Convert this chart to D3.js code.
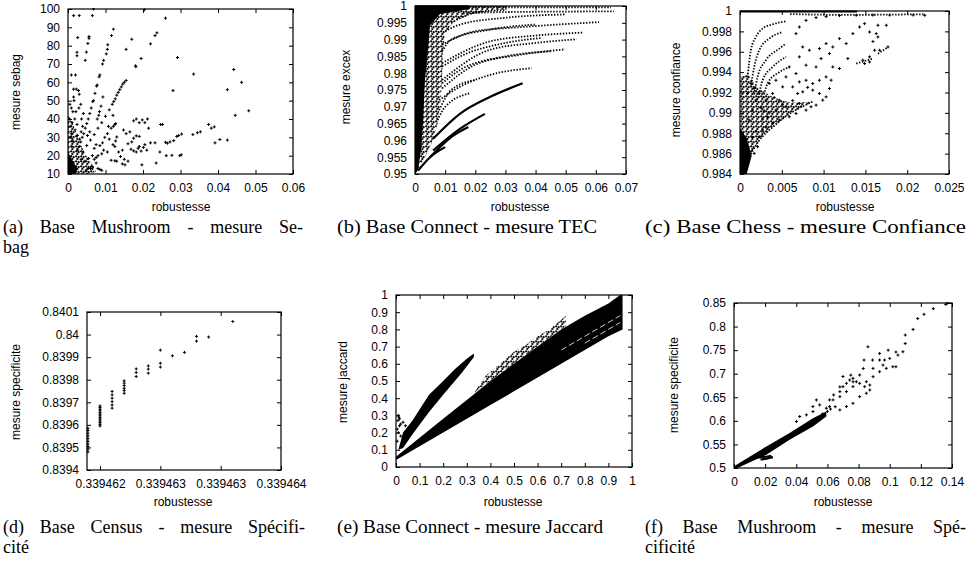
<!DOCTYPE html>
<html>
<head>
<meta charset="utf-8">
<script src="https://cdn.jsdelivr.net/npm/d3@7"></script>
<style>
  body { margin: 0; background: #fff; }
  svg { display: block; }
  text { font-family: "Liberation Sans", Arial, sans-serif; font-size: 12px; fill: #000; }
  .cap { font-family: "Liberation Serif", "Times New Roman", serif; font-size: 18px; }
</style>
</head>
<body>
<svg id="fig" width="969" height="572"></svg>
<script>
// ---- (a) Mushroom / Sebag ----
const sebagXTicks = [0, 0.01, 0.02, 0.03, 0.04, 0.05, 0.06];
const sebagXLabels = ["0", "0.01", "0.02", "0.03", "0.04", "0.05", "0.06"];
const sebagYTicks = [10, 20, 30, 40, 50, 60, 70, 80, 90, 100];
const sebagYLabels = ["10", "20", "30", "40", "50", "60", "70", "80", "90", "100"];
const sebagCore = [[0,10],[0,22],[0.001,18],[0.0025,13],[0.002,10]];
const sebagSpeck = [[0,10],[0,42],[0.0012,38],[0.0028,29],[0.0045,21],[0.0065,15],[0.0075,11.5],[0.006,10]];
const sebagPoints = [
  [0.0015,96.4],[0.003,96.4],[0.0065,96.4],[0.0068,100],[0.0204,99.6],[0.026,95],
  [0.0026,84.4],[0.0024,76.4],[0.0024,74.5],[0.0049,76.5],[0.0046,72],[0.0056,85],[0.0056,84],[0.0053,81.2],
  [0.0009,64],[0.002,64],[0.0015,56.3],[0.0022,56.3],[0.0028,55.5],[0.003,53.5],[0.0015,52],[0.0016,50],[0.0013,44],[0.0021,44],
  [0.0121,89],[0.0116,85.5],[0.0106,80.5],[0.0105,78],[0.0102,75.5],[0.0095,72],[0.0092,70],[0.0085,64],[0.0083,63],
  [0.0078,58.5],[0.0076,58],[0.0072,54],[0.0068,50],[0.0066,49.5],[0.0062,46],[0.0058,43],[0.0054,40],[0.005,37.5],
  [0.0046,35],[0.0042,32],[0.0038,30],[0.0034,27.5],[0.003,25],[0.0026,23],
  [0.0155,61],[0.015,60],[0.0146,59],[0.0142,57.5],[0.0138,56],[0.0134,54.5],[0.013,53],[0.0126,51],[0.0122,49.5],
  [0.0118,48],[0.011,45],[0.01,41.5],[0.009,38],[0.008,35],[0.007,31.5],[0.006,28.5],[0.005,25.5],[0.004,22],
  [0.0093,52],[0.0088,47],[0.0084,44],[0.0082,42],[0.0078,40],[0.012,42],[0.0121,36],[0.0125,37],[0.0127,37.5],
  [0.0155,78],[0.017,83.5],[0.0195,73],[0.018,69],[0.0181,68.5],[0.022,81],[0.0232,85.5],[0.0237,87],
  [0.028,55.5],[0.0292,73.5],[0.0335,64.5],[0.0425,56],[0.0442,67],[0.0446,42],[0.0463,60],[0.0482,44.5],
  [0.0375,37],[0.0382,35],[0.039,35.7],[0.0353,33],[0.0345,32.5],[0.0333,31.5],[0.0392,27],[0.0405,28.8],[0.0425,28.5],
  [0.0302,20.5],[0.0298,20],[0.0295,31],[0.0303,31.8],[0.029,30.5],[0.0282,28.2],[0.0272,27.5],[0.026,27.3],[0.0265,26.8],
  [0.0245,22],[0.0252,37],[0.0247,37],[0.0277,20.2],[0.0262,20],[0.0235,16],[0.0197,15],[0.0232,27],
  [0.0175,39],[0.0182,40],[0.019,38],[0.0198,39.5],[0.0205,38],[0.0212,40],[0.0215,35],[0.019,30.5],[0.0182,30.8],
  [0.0175,29.5],[0.017,27.5],[0.016,26.5],[0.0165,33],[0.0155,32],[0.0148,34],[0.0145,23],[0.0135,22],[0.014,19.5],
  [0.015,18],[0.016,17],[0.0145,15.5],[0.0152,15],[0.013,17],[0.0125,17.2],[0.0115,17.5],[0.0125,25],[0.012,26],
  [0.0127,28],[0.013,30.2],[0.0105,22],[0.0095,23],[0.0085,25.5],[0.009,21],[0.008,20],[0.0075,19],[0.007,18],
  [0.008,13],[0.0085,12.5],[0.009,12],[0.0075,16],[0.019,25],[0.0201,24.5],[0.021,23],[0.0182,22],[0.0187,24],
  [0.0205,26],[0.022,27],[0.0195,22.5],[0.0175,22.6],[0.0168,23.5],[0.011,29],[0.0105,32],[0.0098,30],[0.0092,27],
  [0.0115,35],[0.0108,36],
  [0.0005,15],[0.001,25],[0.0013,28],[0.0006,30],[0.0009,32],[0.0006,36],[0.0004,40],[0.0011,38],
  [0.0035,18],[0.0045,17],[0.0055,18.5],[0.0065,20],[0.006,13],[0.0065,14],[0.0048,12],[0.0055,13.2],
  [0.0019,34],[0.0025,31],[0.0031,29],[0.0036,40],[0.0041,43],[0.0029,46],[0.0034,48],[0.0018,40],[0.0024,37],
  [0.0005,48],[0.0009,46],[0.0035,33],[0.0039,36],[0.0052,31],[0.0058,33],[0.007,24],[0.0075,26]
];

// ---- (b) Connect / TEC ----
const excexXTicks = [0, 0.01, 0.02, 0.03, 0.04, 0.05, 0.06, 0.07];
const excexXLabels = ["0", "0.01", "0.02", "0.03", "0.04", "0.05", "0.06", "0.07"];
const excexYTicks = [0.95, 0.955, 0.96, 0.965, 0.97, 0.975, 0.98, 0.985, 0.99, 0.995, 1];
const excexYLabels = ["0.95", "0.955", "0.96", "0.965", "0.97", "0.975", "0.98", "0.985", "0.99", "0.995", "1"];
const excexCore = [[0,0.95],[0,1],[0.0182,1],[0.0182,0.9991],[0.0083,0.9976],[0.005,0.9943],[0.0043,0.9869],
  [0.0033,0.978],[0.0027,0.9661],[0.002,0.9571],[0.001,0.9512]];
const excexSpeck = [[0,0.95],[0.003,0.9545],[0.0055,0.959],[0.0075,0.965],[0.0085,0.972],[0.009,0.979],
  [0.0092,0.986],[0.01,0.992],[0.013,0.9955],[0.02,0.998],[0.03,0.999],[0.03,1],[0,1]];
const excexDotted = [
  [[0.018,0.9997],[0.04,0.9996],[0.065,0.9996]],
  [[0.016,0.9978],[0.03,0.9982],[0.066,0.9984]],
  [[0.009,0.9885],[0.02,0.9925],[0.035,0.9937],[0.061,0.9952]],
  [[0.009,0.983],[0.025,0.9895],[0.04,0.9912],[0.0559,0.9921]],
  [[0.009,0.978],[0.025,0.987],[0.04,0.989],[0.0536,0.9901]],
  [[0.009,0.9755],[0.02,0.9825],[0.035,0.9855],[0.0498,0.9871]],
  [[0.008,0.972],[0.015,0.976],[0.025,0.9795],[0.0387,0.9815]],
  [[0.009,0.977],[0.015,0.981],[0.03,0.985],[0.045,0.9865]],
  [[0.009,0.982],[0.015,0.985],[0.03,0.989],[0.042,0.9905]],
  [[0.009,0.9865],[0.012,0.99],[0.025,0.993],[0.04,0.9945]],
  [[0.01,0.9925],[0.015,0.9945],[0.03,0.9965],[0.05,0.9975]],
  [[0.012,0.995],[0.02,0.998],[0.03,0.9988]],
  [[0.008,0.969],[0.012,0.975],[0.02,0.978]],
  [[0.0075,0.966],[0.01,0.97],[0.018,0.974]]
];
const excexSolid = [
  [[0.006,0.9605],[0.015,0.968],[0.025,0.973],[0.0357,0.977]],
  [[0.006,0.957],[0.015,0.9635],[0.0232,0.9679]],
  [[0.005,0.955],[0.012,0.961],[0.0177,0.964]],
  [[0.001,0.951],[0.005,0.955],[0.01,0.958]],
  [[0,0.9999],[0.018,0.9999]]
];

// ---- (c) Chess / Confiance ----
const confXTicks = [0, 0.005, 0.01, 0.015, 0.02, 0.025];
const confXLabels = ["0", "0.005", "0.01", "0.015", "0.02", "0.025"];
const confYTicks = [0.984, 0.986, 0.988, 0.99, 0.992, 0.994, 0.996, 0.998, 1];
const confYLabels = ["0.984", "0.986", "0.988", "0.99", "0.992", "0.994", "0.996", "0.998", "1"];
const confCore = [[0,0.984],[0,0.9885],[0.0008,0.9875],[0.0014,0.9858],[0.0008,0.984]];
const confSpeck = [[0,0.984],[0,0.9935],[0.001,0.9938],[0.002,0.9925],[0.004,0.9915],[0.006,0.991],[0.0087,0.9911],
  [0.0059,0.9899],[0.0039,0.9886],[0.0023,0.9873],[0.0011,0.9857],[0.0003,0.984]];
const confDotted = [
  [[0.0009,0.9935],[0.0013,0.99615],[0.0019,0.99745],[0.0027,0.99827],[0.0039,0.99869],[0.0055,0.999]],
  [[0.0013,0.9925],[0.0017,0.99451],[0.0023,0.99615],[0.0035,0.99729],[0.0051,0.99794]],
  [[0.0017,0.9918],[0.0021,0.99353],[0.0031,0.99517],[0.0047,0.99631],[0.0055,0.9968]],
  [[0.0022,0.9915],[0.0027,0.9932],[0.0039,0.9945],[0.0055,0.9955]],
  [[0.0028,0.9915],[0.0033,0.9929],[0.0047,0.994],[0.0059,0.9945]],
  [[0.0011,0.9857],[0.0023,0.9873],[0.0039,0.9886],[0.0059,0.9899],[0.0079,0.9908],[0.0087,0.9911]],
  [[0.006,0.9997],[0.012,0.99962],[0.022,0.99968]],
  [[0.0139,0.99484],[0.0159,0.99533]],
  [[0.0165,0.9958],[0.0177,0.99647]]
];
const confSolid = [[[0,0.99995],[0.014,0.99995]]];
const confPoints = [
  [0.0177,0.99647],[0.0175,0.9986],[0.0165,0.9986],[0.0163,0.99778],[0.0165,0.99745],[0.0159,0.997],[0.0161,0.99615],
  [0.0167,0.99615],[0.0155,0.9955],[0.0147,0.99517],[0.0149,0.99484],[0.0155,0.995],[0.0129,0.99533],[0.0127,0.9968],
  [0.0119,0.99729],[0.0135,0.99778],[0.0143,0.99843],[0.0149,0.99876],[0.0155,0.99794],[0.0111,0.99647],[0.0107,0.99582],
  [0.0103,0.9968],[0.0095,0.99631],[0.0097,0.99533],[0.0091,0.99451],[0.0083,0.99615],[0.0075,0.99647],[0.0071,0.9955],
  [0.0079,0.99468],[0.0111,0.99451],[0.0119,0.99435],[0.0103,0.99353],[0.0095,0.9932],[0.0087,0.99288],[0.0079,0.9932],
  [0.0071,0.99304],[0.0067,0.99386],[0.0059,0.99451],[0.0055,0.99353],[0.0063,0.99255],[0.0075,0.99206],[0.0087,0.99223],
  [0.0095,0.9919],[0.0103,0.99157],[0.0107,0.99239],[0.0109,0.99321],[0.0099,0.99125],[0.0091,0.99076],[0.0085,0.9906],
  [0.0079,0.99027],[0.0071,0.99092],[0.0067,0.98994],[0.0059,0.98962],[0.0055,0.9906],[0.0047,0.99125],[0.0043,0.99027],
  [0.0047,0.98929],[0.0039,0.98896],[0.0035,0.99],[0.0031,0.99125],[0.0039,0.9919],[0.0027,0.98831],[0.0023,0.98766],
  [0.0021,0.98668],[0.0017,0.98602],[0.0035,0.99288],[0.0043,0.9932],[0.0051,0.99255],[0.0023,0.9919],[0.0019,0.99125],
  [0.0015,0.99027],[0.0011,0.98929],[0.0009,0.9919],[0.0013,0.99288],[0.0017,0.99239],[0.0067,0.99778],[0.0071,0.99843],
  [0.0079,0.99908],[0.0091,0.99935],[0.0103,0.99945],[0.0119,0.99955],[0.0139,0.99958],[0.0159,0.9996],[0.0179,0.9996],
  [0.0207,0.9996],[0.0221,0.99958],[0.0029,0.9902],[0.0033,0.9896],[0.0025,0.9905],[0.0041,0.9915],[0.0051,0.9908],
  [0.0063,0.9912],[0.0069,0.9919],[0.0081,0.9925],[0.0031,0.9886],[0.0027,0.9894],[0.0019,0.9882],[0.0015,0.9876]
];

// ---- (d) Census / Specificite ----
const censusXTicks = [0.339462, 0.3394625, 0.339463, 0.3394635];
const censusXLabels = ["0.339462", "0.339463", "0.339463", "0.339464"];
const censusYTicks = [0.8394, 0.8395, 0.8396, 0.8397, 0.8398, 0.8399, 0.84, 0.8401];
const censusYLabels = ["0.8394", "0.8395", "0.8396", "0.8397", "0.8398", "0.8399", "0.84", "0.8401"];
const censusPoints = [
  [0.3394619,0.839585],[0.3394619,0.839575],[0.3394619,0.839563],[0.3394619,0.839551],[0.3394619,0.839539],
  [0.3394619,0.839527],[0.3394619,0.839515],[0.3394619,0.839504],[0.3394619,0.839492],[0.3394619,0.83948],
  [0.339462,0.839684],[0.339462,0.839677],[0.339462,0.839669],[0.339462,0.839662],[0.339462,0.839654],
  [0.339462,0.839647],[0.339462,0.83964],[0.339462,0.839632],[0.339462,0.839625],[0.339462,0.839617],
  [0.339462,0.83961],[0.339462,0.839602],[0.339462,0.839595],
  [0.3394621,0.839748],[0.3394621,0.839733],[0.3394621,0.839718],[0.3394621,0.839703],[0.3394621,0.839688],[0.3394621,0.839674],
  [0.3394622,0.839795],[0.3394622,0.839785],[0.3394622,0.839774],[0.3394622,0.839762],[0.3394622,0.839752],[0.3394622,0.83974],
  [0.3394623,0.839848],[0.3394623,0.839832],[0.3394623,0.839814],
  [0.3394624,0.839861],[0.3394624,0.839847],[0.3394624,0.839829],
  [0.3394625,0.839931],[0.3394625,0.839873],[0.3394625,0.839856],
  [0.3394626,0.839906],[0.3394627,0.839921],[0.3394628,0.839992],[0.3394628,0.839971],
  [0.3394629,0.839989],[0.3394631,0.840058]
];

// ---- (e) Connect / Jaccard ----
const jaccardTicks = [0, 0.1, 0.2, 0.3, 0.4, 0.5, 0.6, 0.7, 0.8, 0.9, 1];
const jaccardLabels = ["0", "0.1", "0.2", "0.3", "0.4", "0.5", "0.6", "0.7", "0.8", "0.9", "1"];
const jaccardBand = [[0,0.06],[0.1,0.17],[0.2,0.28],[0.3,0.39],[0.4,0.5],[0.5,0.6],[0.6,0.7],[0.7,0.8],
  [0.8,0.88],[0.9,0.95],[0.95,1],[0.96,1],[0.96,0.8],
  [0.9,0.76],[0.8,0.68],[0.7,0.6],[0.6,0.52],[0.5,0.44],[0.4,0.36],[0.3,0.28],[0.2,0.2],[0.1,0.12],[0,0.04]];
const jaccardSpeck = [[0.33,0.43],[0.38,0.53],[0.45,0.61],[0.5,0.67],[0.55,0.71],[0.6,0.76],[0.65,0.8],
  [0.72,0.88],[0.72,0.82],[0.6,0.7],[0.5,0.6],[0.4,0.5]];
const jaccardWedge = [[0.01,0.1],[0.03,0.2],[0.07,0.27],[0.14,0.42],[0.2,0.5],[0.25,0.57],[0.3,0.63],[0.33,0.66],
  [0.33,0.64],[0.28,0.55],[0.2,0.42],[0.14,0.32],[0.07,0.19],[0.03,0.11]];
const jaccardGaps = [[[0.7,0.68],[0.95,0.88]], [[0.8,0.72],[0.95,0.84]]];
const jaccardPoints = [[0.01,0.3],[0.015,0.28],[0.02,0.25],[0.005,0.22],[0.01,0.2],[0.015,0.24],[0.03,0.26],
  [0.04,0.24],[0.005,0.15],[0.02,0.18],[0.008,0.27],[0.012,0.29]];

// ---- (f) Mushroom / Specificite ----
const specXTicks = [0, 0.02, 0.04, 0.06, 0.08, 0.1, 0.12, 0.14];
const specXLabels = ["0", "0.02", "0.04", "0.06", "0.08", "0.1", "0.12", "0.14"];
const specYTicks = [0.5, 0.55, 0.6, 0.65, 0.7, 0.75, 0.8, 0.85];
const specYLabels = ["0.5", "0.55", "0.6", "0.65", "0.7", "0.75", "0.8", "0.85"];
const specBand = [[0,0.5035],[0.0208,0.5458],[0.0357,0.574],[0.0507,0.6056],[0.0593,0.6197],
  [0.0593,0.6092],[0.0507,0.588],[0.0357,0.5599],[0.0208,0.5282],[0,0.4965]];
const specHook = [[[0.012,0.522],[0.018,0.523],[0.024,0.526]],[[0.017,0.518],[0.021,0.52],[0.025,0.523]]];
const specPoints = [
  [0.064,0.655],[0.068,0.672],[0.07,0.694],[0.075,0.697],[0.0765,0.683],[0.083,0.711],[0.0835,0.729],[0.089,0.729],
  [0.0935,0.743],[0.099,0.75],[0.104,0.746],[0.11,0.764],[0.11,0.782],[0.115,0.794],[0.118,0.817],[0.122,0.826],
  [0.128,0.838],[0.136,0.847],[0.137,0.85],
  [0.068,0.6514],[0.0722,0.662],[0.0764,0.6726],[0.0807,0.6796],[0.085,0.683],[0.0893,0.6937],[0.0935,0.7042],
  [0.0978,0.7113],[0.102,0.7148],[0.104,0.7148],[0.1,0.7324],[0.0957,0.7183],[0.0893,0.7113],[0.0807,0.6972],
  [0.0764,0.6901],[0.0722,0.6796],[0.068,0.662],[0.0636,0.6444],[0.0614,0.6303],[0.068,0.6232],[0.0722,0.6303],
  [0.0764,0.6373],[0.0807,0.6514],[0.085,0.6585],[0.0872,0.6655],[0.0593,0.6268],[0.055,0.6338],[0.0507,0.6303],
  [0.0529,0.6444],[0.0507,0.6197],[0.0465,0.6127],[0.0422,0.6092],[0.0401,0.5986],[0.0614,0.6444],[0.07,0.6726],
  [0.0743,0.6866],[0.0786,0.6831],[0.0839,0.6726],[0.0872,0.676],[0.0935,0.729],[0.0967,0.729],[0.1085,0.7465],
  [0.1053,0.7394],[0.086,0.757],[0.062,0.625],[0.065,0.63],[0.057,0.615],[0.06,0.62]
];

// ---- captions ----
const captions = [
  { text: "(a) Base Mushroom - mesure Se-", x: 3, y: 233, w: 300, fit: "words" },
  { text: "bag", x: 3, y: 253 },
  { text: "(b) Base Connect - mesure TEC", x: 337, y: 233, w: 260, fit: "glyphs" },
  { text: "(c) Base Chess - mesure Confiance", x: 645, y: 233, w: 321, fit: "glyphs" },
  { text: "(d) Base Census - mesure Spécifi-", x: 3, y: 533, w: 302, fit: "words" },
  { text: "cité", x: 3, y: 553 },
  { text: "(e) Base Connect - mesure Jaccard", x: 337, y: 533, w: 266, fit: "glyphs" },
  { text: "(f) Base Mushroom - mesure Spé-", x: 645, y: 533, w: 321, fit: "words" },
  { text: "cificité", x: 645, y: 553 }
];

const svg = d3.select("#fig");
const plus = "M-1.5,0H1.5M0,-1.5V1.5";

// speckle fill standing in for the densest point clouds
const pat = svg.append("defs").append("pattern").attr("id", "speck")
  .attr("width", 5).attr("height", 5).attr("patternUnits", "userSpaceOnUse");
pat.append("path")
  .attr("d", "M0,1.3H2.4M1.2,0.1V2.5M2.5,2.1H4.9M3.7,0.9V3.3M1.1,4H3.5M2.3,2.8V5.2")
  .attr("stroke", "#000").attr("stroke-width", 1);

function panel(id, o) {
  const x = d3.scaleLinear().domain(o.xDomain).range([o.l, o.r]);
  const y = d3.scaleLinear().domain(o.yDomain).range([o.b, o.t]);
  const g = svg.append("g");

  g.append("clipPath").attr("id", "clip-" + id)
    .append("rect").attr("x", o.l - 1).attr("y", o.t - 1)
    .attr("width", o.r - o.l + 2).attr("height", o.b - o.t + 2);
  const plot = g.append("g").attr("clip-path", `url(#clip-${id})`);

  const area = d3.line().x(d => x(d[0])).y(d => y(d[1])).curve(d3.curveLinearClosed);
  const curve = d3.line().x(d => x(d[0])).y(d => y(d[1])).curve(d3.curveMonotoneX);

  (o.speck || []).forEach(poly => {
    plot.append("path").attr("d", area(poly)).attr("fill", "url(#speck)");
  });
  (o.blobs || []).forEach(poly => {
    plot.append("path").attr("d", area(poly)).attr("fill", "#000");
  });
  (o.gaps || []).forEach(s => {
    plot.append("path").attr("d", curve(s)).attr("fill", "none").attr("stroke", "#fff")
      .attr("stroke-width", 0.8).attr("stroke-dasharray", "6,3");
  });
  (o.dotted || []).forEach(s => {
    plot.append("path").attr("d", curve(s)).attr("fill", "none").attr("stroke", "#000")
      .attr("stroke-width", 1.8).attr("stroke-dasharray", "1.4,1.6");
  });
  (o.solid || []).forEach(s => {
    plot.append("path").attr("d", curve(s)).attr("fill", "none").attr("stroke", "#000")
      .attr("stroke-width", 2.2);
  });
  plot.selectAll(".pt").data(o.points || []).enter().append("path")
    .attr("d", plus).attr("transform", d => `translate(${x(d[0])},${y(d[1])})`)
    .attr("stroke", "#000").attr("stroke-width", 1).attr("fill", "none");

  // axes: gnuplot-like, inward ticks mirrored on all four sides
  const fmtX = (d, i) => o.xLabels[i];
  const fmtY = (d, i) => o.yLabels[i];
  g.append("g").attr("transform", `translate(0,${o.b})`)
    .call(d3.axisBottom(x).tickValues(o.xTicks).tickFormat(fmtX).tickSize(-4).tickPadding(9));
  g.append("g").attr("transform", `translate(0,${o.t})`)
    .call(d3.axisTop(x).tickValues(o.xTicks).tickFormat("").tickSize(-4));
  g.append("g").attr("transform", `translate(${o.l},0)`)
    .call(d3.axisLeft(y).tickValues(o.yTicks).tickFormat(fmtY).tickSize(-4).tickPadding(8));
  g.append("g").attr("transform", `translate(${o.r},0)`)
    .call(d3.axisRight(y).tickValues(o.yTicks).tickFormat("").tickSize(-4));
  g.selectAll(".domain").remove();
  g.selectAll(".tick line").attr("stroke", "#000").attr("stroke-width", 1);
  g.selectAll(".tick text").attr("font-family", "Liberation Sans, Arial, sans-serif")
    .attr("font-size", 12).attr("fill", "#000");

  g.append("rect").attr("x", o.l).attr("y", o.t).attr("width", o.r - o.l).attr("height", o.b - o.t)
    .attr("fill", "none").attr("stroke", "#000").attr("stroke-width", 1.2);

  g.append("text").attr("x", o.xt[0]).attr("y", o.xt[1]).attr("text-anchor", "middle")
    .attr("dominant-baseline", "central").text("robustesse");
  g.append("text").attr("transform", `translate(${o.yt[0]},${o.yt[1]}) rotate(-90)`)
    .attr("text-anchor", "middle").attr("dominant-baseline", "central").text(o.yTitle);
}

panel("a", { l: 68, r: 293, t: 9, b: 174, xDomain: [0, 0.06], yDomain: [10, 100],
  xTicks: sebagXTicks, xLabels: sebagXLabels, yTicks: sebagYTicks, yLabels: sebagYLabels,
  yTitle: "mesure sebag", xt: [181, 207], yt: [16, 92],
  speck: [sebagSpeck], blobs: [sebagCore], points: sebagPoints });

panel("b", { l: 415, r: 626, t: 6, b: 174, xDomain: [0, 0.07], yDomain: [0.95, 1],
  xTicks: excexXTicks, xLabels: excexXLabels, yTicks: excexYTicks, yLabels: excexYLabels,
  yTitle: "mesure excex", xt: [520, 207], yt: [346, 87],
  speck: [excexSpeck], blobs: [excexCore], dotted: excexDotted, solid: excexSolid });

panel("c", { l: 740, r: 949, t: 11, b: 174, xDomain: [0, 0.025], yDomain: [0.984, 1],
  xTicks: confXTicks, xLabels: confXLabels, yTicks: confYTicks, yLabels: confYLabels,
  yTitle: "mesure confiance", xt: [845, 207], yt: [676, 90],
  speck: [confSpeck], blobs: [confCore], dotted: confDotted, solid: confSolid, points: confPoints });

panel("d", { l: 87, r: 281, t: 312, b: 470, xDomain: [0.339461892, 0.3394635], yDomain: [0.8394, 0.8401],
  xTicks: censusXTicks, xLabels: censusXLabels, yTicks: censusYTicks, yLabels: censusYLabels,
  yTitle: "mesure specificite", xt: [183, 502], yt: [16, 392],
  points: censusPoints });

panel("e", { l: 396, r: 632, t: 295, b: 467, xDomain: [0, 1], yDomain: [0, 1],
  xTicks: jaccardTicks, xLabels: jaccardLabels, yTicks: jaccardTicks, yLabels: jaccardLabels,
  yTitle: "mesure jaccard", xt: [513, 502], yt: [343, 382],
  speck: [jaccardSpeck], blobs: [jaccardBand, jaccardWedge], gaps: jaccardGaps, points: jaccardPoints });

panel("f", { l: 734, r: 952, t: 303, b: 468, xDomain: [0, 0.14], yDomain: [0.5, 0.85],
  xTicks: specXTicks, xLabels: specXLabels, yTicks: specYTicks, yLabels: specYLabels,
  yTitle: "mesure specificite", xt: [843, 502], yt: [674, 385],
  blobs: [specBand], solid: specHook, points: specPoints });

// captions: hyphenated lines justified by word spacing, single lines fitted to their measured width
captions.forEach(c => {
  const t = svg.append("text").attr("class", "cap").attr("x", c.x).attr("y", c.y).text(c.text);
  if (!c.w) return;
  const natural = t.node().getComputedTextLength();
  const gaps = c.text.split(" ").length - 1;
  if (c.fit === "words" && c.w > natural) t.attr("word-spacing", (c.w - natural) / gaps);
  else t.attr("textLength", c.w).attr("lengthAdjust", "spacingAndGlyphs");
});
</script>
</body>
</html>
